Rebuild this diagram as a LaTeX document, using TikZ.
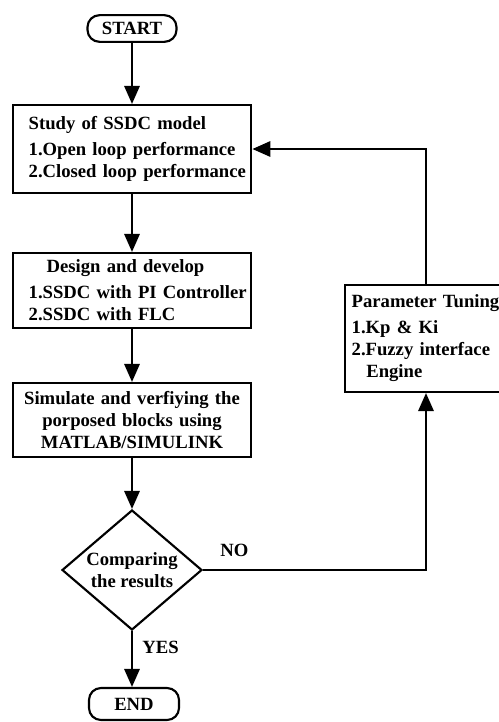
\documentclass[tikz,border=0pt]{standalone}
\usepackage{fontspec}
\setmainfont{Liberation Serif}
\usetikzlibrary{shapes.geometric,arrows.meta}
\newcommand{\LINEPT}{1.6pt}
\newcommand{\BOXW}{179pt}
\newcommand{\FLOWFONT}{\fontsize{14}{16.5}\selectfont\bfseries}
\tikzset{
	flowbox/.style={draw,rectangle,line width=\LINEPT,minimum width=\BOXW,font=\FLOWFONT},
	termbox/.style={draw,rectangle,rounded corners=9pt,line width=\LINEPT,font=\FLOWFONT,inner sep=0pt},
	flowarrow/.style={-{Triangle[length=13.5pt,width=11.5pt]},line width=\LINEPT},
	flowlabel/.style={font=\FLOWFONT,inner sep=2pt}
}

\begin{document}
\begin{tikzpicture}[x=0.75pt,y=-0.75pt]

		%%
		\useasboundingbox (0,0) rectangle (499,722);
		\clip (0,0) rectangle (499,722);

		\coordinate (bend1) at (426,570);
		\coordinate (bend2) at (426,149);

		%%
		\node[termbox,minimum width=66.75pt,minimum height=20pt] (start) at (132,28.5) {START};
		\node[flowbox,minimum height=66pt,text width=155pt,inner xsep=12pt,align=left] (study) at (132,149)
			{Study of SSDC model\\[3pt] \mbox{1.Open loop performance}\\ \mbox{2.Closed loop performance}};
		\node[flowbox,minimum height=56.25pt,text width=155pt,inner xsep=12pt,align=left] (design) at (132,290.5)
			{\hspace*{13.5pt}Design and develop\\[3pt] \mbox{1.SSDC with PI Controller}\\ 2.SSDC with FLC};
		\node[flowbox,minimum height=55.5pt,text width=170pt,inner xsep=4pt,align=center] (simul) at (132,420)
			{Simulate and verfiying the\\ porposed blocks using\\ MATLAB/SIMULINK};
		\node[diamond,draw,line width=\LINEPT,font=\FLOWFONT,aspect=1.17,inner sep=0pt,minimum width=105pt,minimum height=90pt,align=center] (dec) at (132,570)
			{Comparing\\ the results};
		\node[termbox,minimum width=67.5pt,minimum height=24pt] (stop) at (134,704) {END};
		\node[flowbox,minimum width=150pt,minimum height=80.25pt,text width=140pt,inner xsep=5pt,align=left] (tune) at (445,338.5)
			{Parameter Tuning\\[3pt] 1.Kp \& Ki\\ 2.Fuzzy interface\\ \hspace*{11pt}Engine};

		%%
		\draw[flowarrow] (start) -- (study);
		\draw[flowarrow] (study) -- (design);
		\draw[flowarrow] (design) -- (simul);
		\draw[flowarrow] (simul) -- (dec);
		\draw[flowarrow] (dec.south) -- (dec.south |- stop.north) node[flowlabel,pos=0.3,right=5pt] (yeslab) {YES};
		\draw[flowarrow] (dec.east) -- node[flowlabel,pos=0.14,above=7pt] (nolab) {NO} (bend1) -- (tune.south -| bend1);
		\draw[flowarrow] (tune.north -| bend2) -- (bend2) -- (study.east);

	\end{tikzpicture}
\end{document}
